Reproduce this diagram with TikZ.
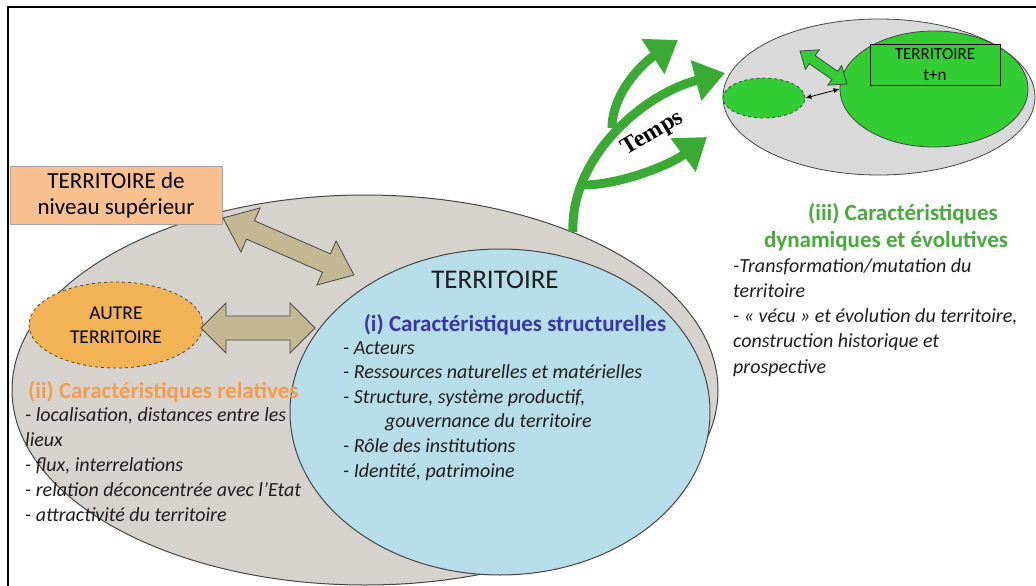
\documentclass[tikz,border=0pt]{standalone}
\usepackage{fontspec}
\setmainfont{Carlito}
\newfontfamily\tempsfont{Liberation Serif}
\usetikzlibrary{shapes.geometric,arrows.meta,calc}
\definecolor{outl}{RGB}{70,70,70}
\definecolor{graybig}{RGB}{214,210,206}
\definecolor{bluein}{RGB}{183,222,232}
\definecolor{orbox}{RGB}{250,192,143}
\definecolor{orell}{RGB}{242,178,86}
\definecolor{brownar}{RGB}{196,184,148}
\definecolor{greencurve}{RGB}{58,170,53}
\definecolor{greenbright}{RGB}{50,205,50}
\definecolor{graytop}{RGB}{217,217,217}
\definecolor{titleor}{RGB}{243,156,76}
\definecolor{titlebl}{RGB}{55,55,165}
\definecolor{titlegr}{RGB}{70,170,60}
\definecolor{bodytxt}{RGB}{30,30,30}
\newcommand{\mydblarrow}[6][]{%
 \draw[#1] (#2) -- ($(#2)!#4!(#3)!#6!90:(#3)$) -- ($(#2)!#4!(#3)!#5!90:(#3)$)
  -- ($(#3)!#4!(#2)!#5!-90:(#2)$) -- ($(#3)!#4!(#2)!#6!-90:(#2)$) -- (#3)
  -- ($(#3)!#4!(#2)!#6!90:(#2)$) -- ($(#3)!#4!(#2)!#5!90:(#2)$)
  -- ($(#2)!#4!(#3)!#5!-90:(#3)$) -- ($(#2)!#4!(#3)!#6!-90:(#3)$) -- cycle;}
\begin{document}
\begin{tikzpicture}[x=1pt,y=-1pt,
  ell/.style={ellipse, inner sep=0pt},
  bodyit/.style={font=\fontsize{20}{24.6}\selectfont\itshape, text=bodytxt, align=left, inner sep=0pt, anchor=base west},
  brownfat/.style={fill=brownar, draw=outl, line width=0.8pt},
  greenfat/.style={fill=greenbright, draw=outl, line width=0.8pt},
  greenarc/.style={draw=greencurve, line width=9pt, -{Triangle[length=30pt,width=40pt]}},
]
\useasboundingbox (0,0) rectangle (1036,586);
\fill[white] (0,0) rectangle (1036,586);
% frame
\draw[line width=2.5pt] (1040,7) -- (8,7) -- (8,590);

% main ellipses
\node[ell, draw=outl, fill=graybig, line width=1pt, minimum width=706pt, minimum height=390pt] (outer) at (365,390) {};
\node[ell, draw=outl, fill=bluein, line width=1pt, minimum width=420pt, minimum height=326pt] (terr) at (500,412) {};

% upper-level territory box
\node[draw=gray!70, fill=orbox, minimum width=212pt, minimum height=58pt, inner sep=0pt,
  font=\fontsize{23}{26}\selectfont, align=center] (sup) at (116,195) {TERRITOIRE de\\niveau supérieur};

% other territory
\node[ell, draw=outl, dashed, fill=orell, line width=0.8pt, minimum width=174pt, minimum height=86pt,
  font=\fontsize{19.5}{24}\selectfont, align=center] (autre) at (116,325) {AUTRE\\TERRITOIRE};

% brown double arrows
\coordinate (b1a) at (223,218);
\coordinate (b1b) at (354,275);
\coordinate (b2a) at (201,328);
\coordinate (b2b) at (315,328);
\mydblarrow[brownfat]{b1a}{b1b}{30pt}{10pt}{24pt}
\mydblarrow[brownfat]{b2a}{b2b}{25pt}{12pt}{25pt}

% central texts
\node[font=\fontsize{27}{30}\selectfont, text=bodytxt, inner sep=0pt] (terrlbl) at (495,280) {TERRITOIRE};
\node[font=\fontsize{23}{26}\selectfont\bfseries, text=titlebl, inner sep=0pt] (ititle) at (515,325) {(i) Caractéristiques structurelles};
\node[bodyit] (ibody) at (343,477) {- Acteurs\\- Ressources naturelles et matérielles\\- Structure, système productif,\\\hspace*{42pt}gouvernance du territoire\\- Rôle des institutions\\- Identité, patrimoine};

% relative characteristics
\node[font=\fontsize{23}{26}\selectfont\bfseries, text=titleor, inner sep=0pt, anchor=base west] (iititle) at (28,398) {(ii) Caractéristiques relatives};
\node[bodyit, font=\fontsize{20}{25}\selectfont\itshape] (iibody) at (25,521) {- localisation, distances entre les\\lieux\\- flux, interrelations\\- relation déconcentrée avec l’Etat\\- attractivité du territoire};

% top-right group
\node[ell, draw=outl, fill=graytop, line width=0.8pt, minimum width=312pt, minimum height=156pt] (futur) at (879,97) {};
\node[ell, draw=outl, fill=greenbright, line width=0.8pt, minimum width=188pt, minimum height=116pt] (terrn) at (934,89) {};
\node[ell, draw=outl, dashed, fill=greenbright, line width=0.8pt, minimum width=82pt, minimum height=40pt] (autren) at (764,98) {};
\node[draw=black, line width=1pt, fill=greenbright, minimum width=130pt, minimum height=40pt, inner sep=0pt,
  font=\fontsize{17}{21}\selectfont, align=center] (boxn) at (935,65) {TERRITOIRE\\t+n};
\draw[{Latex[length=6pt,width=5pt]}-{Latex[length=6pt,width=5pt]}, line width=0.8pt] (autren.east) -- (terrn.west);
\coordinate (g1a) at (800,51);
\coordinate (g1b) at (847,84);
\mydblarrow[greenfat]{g1a}{g1b}{15pt}{5pt}{12pt}

% time arrows
\coordinate (tbase) at (573,232);
\coordinate (tup) at (612,128);
\coordinate (tlow) at (583,185);
\coordinate (tipmid) at (725,73);
\coordinate (tiptop) at (678,40);
\coordinate (tiplow) at (707,137);
\draw[greenarc] (tbase) .. controls (570,160) and (640,95) .. (tipmid);
\draw[greenarc] (tup) .. controls (612,95) and (640,65) .. (tiptop);
\draw[greenarc] (tlow) .. controls (620,185) and (670,165) .. (tiplow);
\node[font=\tempsfont\fontsize{24}{28}\selectfont\bfseries, rotate=31, inner sep=0pt] (temps) at (653,134) {Temps};

% dynamic characteristics
\node[font=\fontsize{23}{27}\selectfont\bfseries, text=titlegr, align=center, inner sep=0pt, anchor=base] (iiititle) at (886,247) {\hspace*{34pt}(iii) Caractéristiques\\dynamiques et évolutives};
\node[bodyit, font=\fontsize{20}{25.2}\selectfont\itshape] (iiibody) at (733,373) {-Transformation/mutation du\\territoire\\- « vécu » et évolution du territoire,\\construction historique et\\prospective};
\end{tikzpicture}
\end{document}
